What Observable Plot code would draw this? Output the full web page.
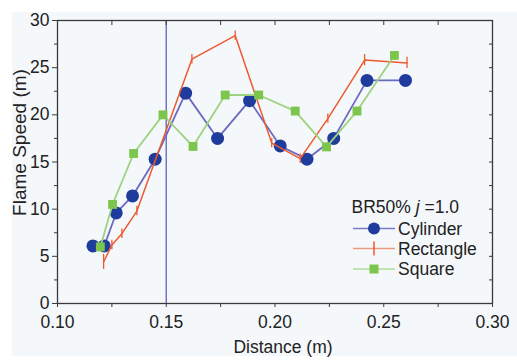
<!DOCTYPE html>
<html><head><meta charset="utf-8">
<script src="https://cdn.jsdelivr.net/npm/d3@7"></script>
<script src="https://cdn.jsdelivr.net/npm/@observablehq/plot@0.6"></script>
<style>
body{margin:0;background:#fff;}
#wrap{position:relative;width:517px;height:362px;overflow:hidden;font-family:"Liberation Sans",Arial,sans-serif;}
#bg{position:absolute;left:12px;top:12px;right:0;bottom:6px;background:#f4f8fb;}
#chart{position:absolute;left:0;top:0;}
#legend{position:absolute;left:0;top:0;pointer-events:none;}
</style></head>
<body><div id="wrap"><div id="bg"></div><div id="chart"></div><svg id="legend" width="517" height="362"></svg></div>
<script>
// Data
const cylinderX = [0.1163, 0.1215, 0.1270, 0.1345, 0.1449, 0.1589, 0.1736, 0.1883, 0.2024, 0.2147, 0.2270, 0.2423, 0.2600];
const cylinderY = [6.1, 6.1, 9.6, 11.4, 15.3, 22.3, 17.5, 21.5, 16.7, 15.3, 17.5, 23.65, 23.65];

const rectangleX = [0.1212, 0.1250, 0.1296, 0.1365, 0.1618, 0.1817, 0.1985, 0.2116, 0.2243, 0.2412, 0.2607];
const rectangleY = [4.4, 6.2, 7.4, 9.8, 25.9, 28.4, 17.0, 15.35, 19.6, 25.8, 25.5];
const rectangleErr = [0.8, 0.5, 0.5, 0.5, 0.5, 0.5, 0.5, 0.5, 0.5, 0.6, 0.6];

const squareX = [0.1197, 0.1253, 0.1350, 0.1485, 0.1623, 0.1771, 0.1925, 0.2093, 0.2237, 0.2377, 0.2549];
const squareY = [6.0, 10.5, 15.9, 20.0, 16.65, 22.1, 22.1, 20.4, 16.6, 20.4, 26.3];

const markerX = [0.15];
const xMajorTicks = [0.10, 0.15, 0.20, 0.25, 0.30];
const xMinorTicks = [0.125, 0.175, 0.225, 0.275];
const xAllTicks = [0.10, 0.125, 0.15, 0.175, 0.20, 0.225, 0.25, 0.275, 0.30];
const yMajorTicks = [0, 5, 10, 15, 20, 25, 30];
const yMinorTicks = [2.5, 7.5, 12.5, 17.5, 22.5, 27.5];
const yAllTicks = [0, 2.5, 5, 7.5, 10, 12.5, 15, 17.5, 20, 22.5, 25, 27.5, 30];
const seriesNames = ["Cylinder", "Rectangle", "Square"];
const xLabel = "Distance (m)";
const yLabel = "Flame Speed (m)";

const cyl = cylinderX.map((x, i) => ({x, y: cylinderY[i]}));
const rect = rectangleX.map((x, i) => ({x, y: rectangleY[i], e: rectangleErr[i]}));
const sq = squareX.map((x, i) => ({x, y: squareY[i]}));

const C_BLUE_LINE = "#6a6abf", C_BLUE = "#1f3b9c";
const C_RED = "#ee5a2f";
const C_GREEN_LINE = "#9fd27e", C_GREEN = "#7cc64e";
const AX = "#3a3a3a";
const FS = 17.5;
const FONT = '"Liberation Sans", Arial, sans-serif';

const chart = Plot.plot({
  width: 517, height: 362,
  marginLeft: 57, marginRight: 25, marginTop: 20, marginBottom: 59,
  style: {background: "transparent", fontFamily: FONT, fontSize: FS + "px", color: "#222"},
  x: {domain: [0.10, 0.30]},
  y: {domain: [0, 30]},
  marks: [
    Plot.ruleX(markerX, {stroke: "#7474c4", strokeWidth: 1.5}),
    Plot.axisX({ticks: xMajorTicks, tickSize: 4, tickPadding: 8, tickFormat: d3.format(".2f"), label: null, stroke: AX, fontSize: FS}),
    Plot.axisX({ticks: xMinorTicks, tickSize: 4, tickFormat: () => "", label: null, stroke: AX}),
    Plot.axisX({anchor: "top", ticks: xAllTicks, tickSize: 4, dy: 4, tickFormat: () => "", label: null, stroke: AX}),
    Plot.axisY({ticks: yMajorTicks, tickSize: 5, tickPadding: 3, tickFormat: d => d, label: null, stroke: AX, fontSize: FS}),
    Plot.axisY({ticks: yMinorTicks, tickSize: 3, tickFormat: () => "", label: null, stroke: AX}),
    Plot.axisY({anchor: "right", ticks: yAllTicks, tickSize: 4, dx: -4, tickFormat: () => "", label: null, stroke: AX}),
    Plot.frame({stroke: AX, strokeWidth: 1.3}),
    Plot.line(cyl, {x: "x", y: "y", stroke: C_BLUE_LINE, strokeWidth: 1.8}),
    Plot.dot(cyl, {x: "x", y: "y", r: 6.5, fill: C_BLUE}),
    Plot.line(rect, {x: "x", y: "y", stroke: C_RED, strokeWidth: 1.5}),
    Plot.ruleX(rect, {x: "x", y1: d => d.y - d.e, y2: d => d.y + d.e, stroke: C_RED, strokeWidth: 1.3}),
    Plot.line(sq, {x: "x", y: "y", stroke: C_GREEN_LINE, strokeWidth: 1.8}),
    Plot.dot(sq, {x: "x", y: "y", symbol: "square", r: 5, fill: C_GREEN})
  ]
});
document.getElementById("chart").appendChild(chart);

// Axis titles and legend (overlay)
const lg = d3.select("#legend").style("font-family", FONT).style("font-size", FS + "px");
lg.append("text").attr("x", 283).attr("y", 353).attr("text-anchor", "middle").attr("fill", "#222").text(xLabel);
lg.append("text").attr("transform", "translate(25.5,142.5) rotate(-90)").attr("text-anchor", "middle")
  .attr("font-size", "19px").attr("fill", "#222").text(yLabel);

const t = lg.append("text").attr("x", 351.5).attr("y", 213).attr("fill", "#222");
t.append("tspan").text("BR50% ");
t.append("tspan").attr("font-style", "italic").text("j");
t.append("tspan").text(" =1.0");
const rows = [228.5, 248.5, 269];
const lineCols = ["#7a7ac6", "#ee9a80", "#b3dc98"];
seriesNames.forEach((name, i) => {
  const y = rows[i];
  lg.append("line").attr("x1", 353).attr("x2", 395).attr("y1", y).attr("y2", y).attr("stroke", lineCols[i]).attr("stroke-width", 1.5);
  if (i === 0) lg.append("circle").attr("cx", 374).attr("cy", y).attr("r", 6).attr("fill", C_BLUE);
  if (i === 1) lg.append("line").attr("x1", 374).attr("x2", 374).attr("y1", y - 7).attr("y2", y + 7).attr("stroke", C_RED).attr("stroke-width", 1.5);
  if (i === 2) lg.append("rect").attr("x", 369.5).attr("y", y - 4.5).attr("width", 9).attr("height", 9).attr("fill", C_GREEN);
  lg.append("text").attr("x", 398).attr("y", y + 6.3).attr("fill", "#222").text(name);
});
</script>
</body></html>
